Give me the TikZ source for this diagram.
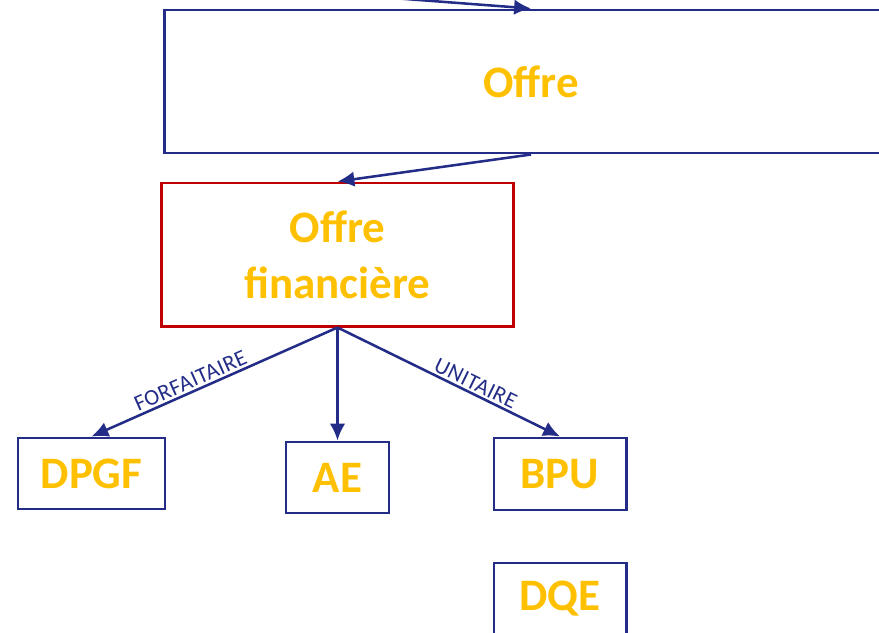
\documentclass[tikz,border=0pt]{standalone}
\usepackage{fontspec}
\setmainfont{Carlito}
\usetikzlibrary{arrows.meta}
\definecolor{navy}{RGB}{35,45,135}
\definecolor{gold}{RGB}{255,192,0}
\definecolor{darkred}{RGB}{192,0,0}
\begin{document}
\begin{tikzpicture}[x=0.025cm, y=-0.025cm,
  box/.style={draw=navy, line width=2.1pt, text=gold, font=\fontsize{32}{40}\selectfont\bfseries, align=center, inner sep=0pt},
  arr/.style={draw=navy, line width=1.8pt, -{Latex[length=12pt,width=11pt]}},
  lbl/.style={text=navy, font=\fontsize{16}{16}\selectfont\addfontfeatures{LetterSpace=2}, inner sep=1.5pt}]
\clip (0,0) rectangle (879,632);

\node[box, minimum width=18.3cm, minimum height=3.575cm] (offre) at (531,81.5) {Offre};
\node[box, draw=darkred, minimum width=8.775cm, minimum height=3.575cm] (fin) at (337.5,254.5) {Offre\\financière};
\node[box, minimum width=3.675cm, minimum height=1.775cm] (dpgf) at (91.5,473.5) {DPGF};
\node[box, minimum width=2.575cm, minimum height=1.775cm] (ae) at (337.5,477.5) {AE};
\node[box, minimum width=3.3cm, minimum height=1.8cm] (bpu) at (560,474) {BPU};
\node[box, minimum width=3.3cm, minimum height=1.8cm] (dqe) at (560,599) {DQE};

\coordinate (src) at (300,-9);
\draw[arr] (src) -- (offre.north);
\draw[arr] (offre.south) -- (fin.north);
\draw[arr] (fin.south) -- node[lbl, pos=0.58, sloped, above] {FORFAITAIRE} (dpgf.north);
\draw[arr] (fin.south) -- (ae.north);
\draw[arr] (fin.south) -- node[lbl, pos=0.6, sloped, above] {UNITAIRE} (bpu.north);
\end{tikzpicture}
\end{document}
